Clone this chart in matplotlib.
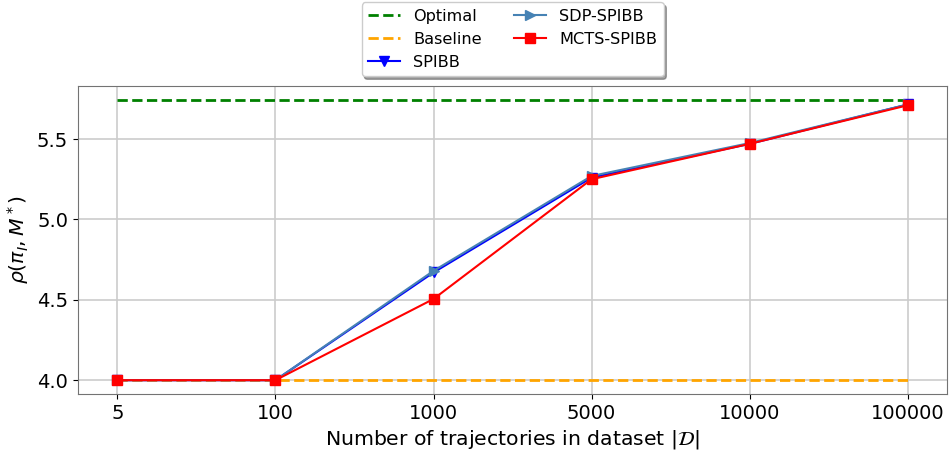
import matplotlib
matplotlib.use("Agg")
import matplotlib.pyplot as plt
import numpy as np

dataset_sizes = ["5", "100", "1000", "5000", "10000", "100000"]
optimal = [5.742] * 6
baseline = [4.0] * 6
spibb = [4.0, 4.0, 4.67, 5.26, 5.47, 5.715]
sdp_spibb = [4.0, 4.0, 4.68, 5.27, 5.475, 5.715]
mcts_spibb = [4.0, 4.0, 4.505, 5.25, 5.47, 5.71]

x = np.arange(len(dataset_sizes))

fig, ax = plt.subplots(figsize=(9.5, 4.51), dpi=100)
ax.plot(x, optimal, color="green", linestyle="--", linewidth=2, label="Optimal")
ax.plot(x, baseline, color="orange", linestyle="--", linewidth=2, label="Baseline")
ax.plot(x, spibb, color="blue", marker="v", markersize=6.5, linewidth=1.5, label="SPIBB")
ax.plot(x, sdp_spibb, color="steelblue", marker=">", markersize=6.5, linewidth=1.5, label="SDP-SPIBB")
ax.plot(x, mcts_spibb, color="red", marker="s", markersize=6.5, linewidth=1.5, label="MCTS-SPIBB")

ax.set_xticks(x)
ax.set_xticklabels(dataset_sizes)
ax.tick_params(labelsize=14)
ax.set_xlabel(r"Number of trajectories in dataset $|\mathcal{D}|$", fontsize=14.7)
ax.set_ylabel(r"$\rho(\pi_I, M^*)$", fontsize=14.7)
ax.set_yticks([4.0, 4.5, 5.0, 5.5])
ax.grid(True, color="0.8", linewidth=1.2)
for sp in ax.spines.values():
    sp.set_color("0.45")

ax.legend(loc="lower center", bbox_to_anchor=(0.5, 1.0), ncol=2, fontsize=11.6,
          shadow=True, framealpha=1.0, borderaxespad=0.6)

fig.subplots_adjust(left=0.082, right=0.997, top=0.809, bottom=0.126)
fig.savefig("out.png", dpi=100)
